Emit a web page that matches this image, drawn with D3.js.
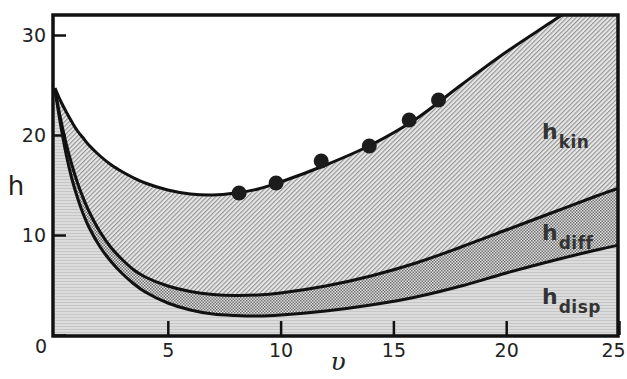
<!DOCTYPE html>
<html>
<head>
<meta charset="utf-8">
<script src="https://cdn.jsdelivr.net/npm/d3@7"></script>
<style>
  body { margin: 0; background: #fff; }
  svg { display: block; }
  .tick text { font-family: "DejaVu Sans", sans-serif; font-size: 19px; fill: #222; }
</style>
</head>
<body>
<svg id="chart" width="627" height="379"></svg>
<script>
// reduced velocity grid shared by all three curves
var nu = [0, 0.25, 0.5, 0.75, 1, 1.25, 1.5, 2, 2.5, 3, 3.5, 4, 5, 6, 7, 8, 9, 10, 12, 14, 16, 18, 20, 22, 24, 25];

// h_disp (lowest curve)
var hDisp = [24.5, 21.0, 18.0, 15.6, 13.7, 12.1, 10.8, 8.8, 7.3, 6.1, 5.1, 4.3, 3.2, 2.5, 2.1, 1.95, 1.9, 2.0, 2.4, 3.0, 3.8, 4.9, 6.2, 7.4, 8.5, 9.0];
// h_disp + h_diff (middle curve)
var hDiff = [24.5, 21.6, 19.1, 17.0, 15.2, 13.7, 12.4, 10.3, 8.7, 7.5, 6.5, 5.8, 4.9, 4.35, 4.05, 3.95, 4.0, 4.2, 4.9, 5.9, 7.2, 8.8, 10.5, 12.2, 13.9, 14.7];
// total h = h_disp + h_diff + h_kin (top curve)
var hTotal = [24.7, 23.4, 22.3, 21.3, 20.4, 19.7, 19.0, 17.9, 17.0, 16.3, 15.7, 15.2, 14.5, 14.1, 14.0, 14.2, 14.6, 15.3, 17.0, 19.0, 21.6, 25.0, 28.3, 31.3, 34.3, 35.8];

// measured points
var dotNu = [8.16, 9.8, 11.8, 13.93, 15.7, 17.0];
var dotH = [14.2, 15.2, 17.4, 18.9, 21.5, 23.5];

var xTicks = [5, 10, 15, 20, 25];
var yTicks = [0, 10, 20, 30];

var svg = d3.select("#chart");

var x = d3.scaleLinear().domain([0, 25]).range([55, 619]);
var y = d3.scaleLinear().domain([0, 32]).range([335, 15]);

var defs = svg.append("defs");

defs.append("clipPath").attr("id", "plot")
    .append("rect")
    .attr("x", 53).attr("y", 15)
    .attr("width", 565).attr("height", 321);

// diagonal hatch for h_kin
var hatch = defs.append("pattern").attr("id", "hatch")
    .attr("patternUnits", "userSpaceOnUse")
    .attr("width", 3.2).attr("height", 3.2)
    .attr("patternTransform", "rotate(45)");
hatch.append("rect").attr("width", 3.2).attr("height", 3.2).attr("fill", "#e6e6e6");
hatch.append("rect").attr("width", 1.1).attr("height", 3.2).attr("fill", "#929292");

// checker for h_diff
var check = defs.append("pattern").attr("id", "check")
    .attr("patternUnits", "userSpaceOnUse")
    .attr("width", 3).attr("height", 3);
check.append("rect").attr("width", 3).attr("height", 3).attr("fill", "#e0e0e0");
check.append("rect").attr("width", 1.5).attr("height", 1.5).attr("fill", "#707070");
check.append("rect").attr("x", 1.5).attr("y", 1.5).attr("width", 1.5).attr("height", 1.5).attr("fill", "#707070");

// fine horizontal lines for h_disp
var lines = defs.append("pattern").attr("id", "lines")
    .attr("patternUnits", "userSpaceOnUse")
    .attr("width", 4).attr("height", 3);
lines.append("rect").attr("width", 4).attr("height", 3).attr("fill", "#dcdcdc");
lines.append("rect").attr("y", 2).attr("width", 4).attr("height", 1).attr("fill", "#c6c6c6");

var idx = d3.range(nu.length);
var smooth = d3.curveCatmullRom.alpha(0.5);

function band(lo, hi) {
    return d3.area()
        .x(function(i) { return x(nu[i]); })
        .y0(function(i) { return y(lo ? lo[i] : 0); })
        .y1(function(i) { return y(hi[i]); })
        .curve(smooth);
}
function curve(arr) {
    return d3.line()
        .x(function(i) { return x(nu[i]); })
        .y(function(i) { return y(arr[i]); })
        .curve(smooth);
}

var g = svg.append("g").attr("clip-path", "url(#plot)");

g.append("path").datum(idx).attr("d", band(null, hDisp)).attr("fill", "url(#lines)");
g.append("path").datum(idx).attr("d", band(hDisp, hDiff)).attr("fill", "url(#check)");
g.append("path").datum(idx).attr("d", band(hDiff, hTotal)).attr("fill", "url(#hatch)");

[hDisp, hDiff, hTotal].forEach(function(arr) {
    g.append("path").datum(idx)
        .attr("d", curve(arr))
        .attr("fill", "none")
        .attr("stroke", "#111")
        .attr("stroke-width", 3);
});

// data points
g.selectAll("circle.pt")
    .data(dotNu)
    .enter().append("circle")
    .attr("class", "pt")
    .attr("cx", function(d) { return x(d); })
    .attr("cy", function(d, i) { return y(dotH[i]); })
    .attr("r", 7.5)
    .attr("fill", "#1c1c1c");

// axes with inward ticks
var xAxis = d3.axisBottom(x).tickValues(xTicks).tickSize(-14).tickPadding(9);
var yAxis = d3.axisLeft(y).tickValues(yTicks).tickSize(-13).tickPadding(7);

var gx = svg.append("g").attr("transform", "translate(0,335)").call(xAxis);
var gy = svg.append("g").attr("transform", "translate(53,0)").call(yAxis);
gx.select(".domain").remove();
gy.select(".domain").remove();
gx.selectAll(".tick line").attr("stroke", "#111").attr("stroke-width", 2.5);
gy.selectAll(".tick line").attr("stroke", "#111").attr("stroke-width", 2.5);
gx.selectAll(".tick text").filter(function(d) { return d == 25; }).attr("dx", -6);
gy.selectAll(".tick text").filter(function(d) { return d == 0; }).attr("dy", "0.9em").attr("dx", 1);

// frame
svg.append("rect")
    .attr("x", 53).attr("y", 15)
    .attr("width", 565).attr("height", 321)
    .attr("fill", "none")
    .attr("stroke", "#111")
    .attr("stroke-width", 3.5);

// region labels
function label(px, py, sub) {
    var t = svg.append("text")
        .attr("x", px).attr("y", py)
        .attr("font-family", "DejaVu Sans, sans-serif")
        .attr("font-weight", "bold")
        .attr("fill", "#333");
    t.append("tspan").attr("font-size", 22).text("h");
    t.append("tspan").attr("font-size", 17).attr("dy", 9).attr("dx", 1)
        .attr("letter-spacing", 0.5).text(sub);
}
label(542, 139, "kin");
label(542, 240, "diff");
label(542, 304, "disp");

// axis titles
svg.append("text")
    .attr("x", 16).attr("y", 195)
    .attr("text-anchor", "middle")
    .attr("font-family", "DejaVu Sans, sans-serif")
    .attr("font-size", 26)
    .attr("fill", "#222")
    .text("h");

svg.append("text")
    .attr("x", 338).attr("y", 370)
    .attr("text-anchor", "middle")
    .attr("font-family", "DejaVu Serif, serif")
    .attr("font-style", "italic")
    .attr("font-size", 25)
    .attr("fill", "#222")
    .text("υ");
</script>
</body>
</html>
